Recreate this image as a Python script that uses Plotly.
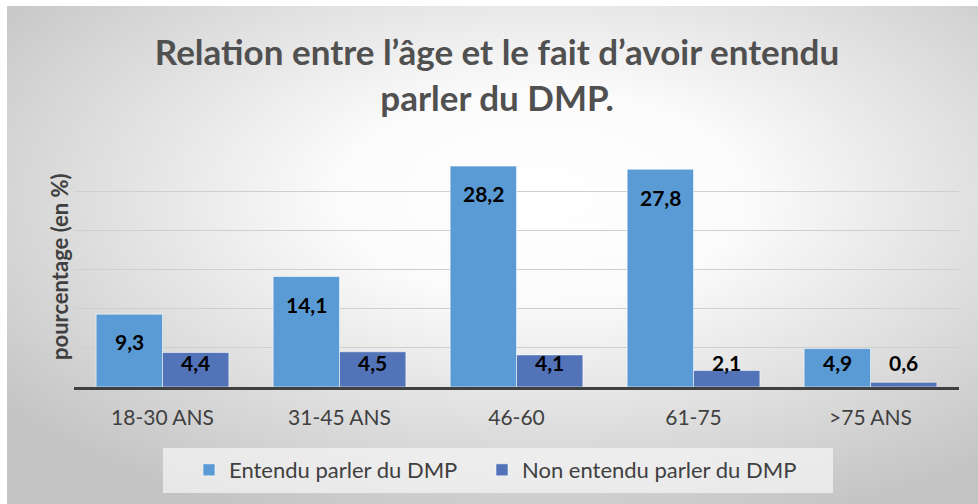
import base64
import plotly.graph_objects as go

categories = ["18-30 ANS", "31-45 ANS", "46-60", "61-75", ">75 ANS"]
entendu = [9.3, 14.1, 28.2, 27.8, 4.9]
non_entendu = [4.4, 4.5, 4.1, 2.1, 0.6]
series_names = ["Entendu parler du DMP", "Non entendu parler du DMP"]
title_text = "Relation entre l’âge et le fait d’avoir entendu<br>parler du DMP."
y_title = "pourcentage (en %)"

W, H = 978, 504
ML, MR, MT, MB = 74, 19, 152, 117
PW, PH = W - ML - MR, H - MT - MB
FONT = "Lato"
BARGAP = 0.25

svg = (
    "<svg xmlns='http://www.w3.org/2000/svg' width='971' height='498' viewBox='0 0 971 498' "
    "preserveAspectRatio='none'><defs><radialGradient id='g' cx='0.55' cy='0.38' r='0.7'>"
    "<stop offset='0' stop-color='#ffffff'/><stop offset='0.3' stop-color='#fbfbfb'/>"
    "<stop offset='1' stop-color='#c4c4c4'/></radialGradient></defs>"
    "<rect width='971' height='498' fill='url(#g)'/></svg>"
)
bg_src = "data:image/svg+xml;base64," + base64.b64encode(svg.encode()).decode()

def px_x(p):
    return (p - ML) / PW

def px_y(p):
    return (H - MB - p) / PH

fig = go.Figure()
fig.add_bar(x=categories, y=entendu, name=series_names[0], legend="legend",
            marker=dict(color="#5B9BD5", line=dict(color="rgba(255,255,255,0.55)", width=1)))
fig.add_bar(x=categories, y=non_entendu, name=series_names[1], legend="legend2",
            marker=dict(color="#5373B8", line=dict(color="rgba(255,255,255,0.55)", width=1)))

annotations = []
off = (1 - BARGAP) / 4
for i, vals in enumerate([entendu, non_entendu]):
    for j, v in enumerate(vals):
        annotations.append(dict(
            x=j + (-off if i == 0 else off), y=max(v - 3.55, 3.13), xref="x", yref="y",
            text=f"{v:.1f}".replace(".", ","), showarrow=False,
            font=dict(family=FONT, size=21, color="#000000", weight="bold"),
            xanchor="center", yanchor="middle"))
annotations.append(dict(
    x=px_x(59), y=px_y(267), xref="paper", yref="paper", text=y_title, textangle=-90,
    showarrow=False, font=dict(family=FONT, size=22, color="#404040", weight="bold"),
    xanchor="center", yanchor="middle"))

legend_common = dict(orientation="h", yanchor="middle", xanchor="left",
                     font=dict(family=FONT, size=22, color="#404040"),
                     bgcolor="rgba(0,0,0,0)", itemclick=False, itemdoubleclick=False)

fig.update_layout(
    width=W, height=H,
    margin=dict(l=ML, r=MR, t=MT, b=MB),
    paper_bgcolor="white", plot_bgcolor="rgba(0,0,0,0)",
    barmode="group", bargap=BARGAP, bargroupgap=0,
    title=dict(text=title_text, x=497 / W, xref="container", xanchor="center",
               y=1 - 65 / H, yref="container", yanchor="middle",
               font=dict(family=FONT, size=35, color="#505050", weight="bold")),
    xaxis=dict(showgrid=False, ticks="outside", ticklen=10, tickcolor="rgba(0,0,0,0)",
               tickfont=dict(family=FONT, size=21, color="#404040"),
               showline=True, linecolor="#404040", linewidth=3),
    yaxis=dict(range=[0, 30], dtick=5, showticklabels=False, gridcolor="#cfcfcf",
               gridwidth=1, zeroline=False),
    legend=dict(x=px_x(189), y=px_y(470), **legend_common),
    legend2=dict(x=px_x(482), y=px_y(470), **legend_common),
    annotations=annotations,
    images=[dict(source=bg_src, xref="paper", yref="paper", x=px_x(7), y=px_y(6),
                 sizex=(W - 7) / PW, sizey=(H - 6) / PH, xanchor="left", yanchor="top",
                 sizing="stretch", layer="below")],
    shapes=[dict(type="rect", xref="paper", yref="paper", x0=px_x(163), x1=px_x(833),
                 y0=px_y(493), y1=px_y(448), fillcolor="rgba(246,246,246,0.7)",
                 line=dict(width=0), layer="below")],
    showlegend=True,
)
fig.write_html("out.html", config={"displayModeBar": False})
with open("out.html", encoding="utf-8") as f:
    html = f.read()
html = html.replace("<head>", "<head><style>html,body{margin:0;padding:0;overflow:hidden}</style>", 1)
with open("out.html", "w", encoding="utf-8") as f:
    f.write(html)
